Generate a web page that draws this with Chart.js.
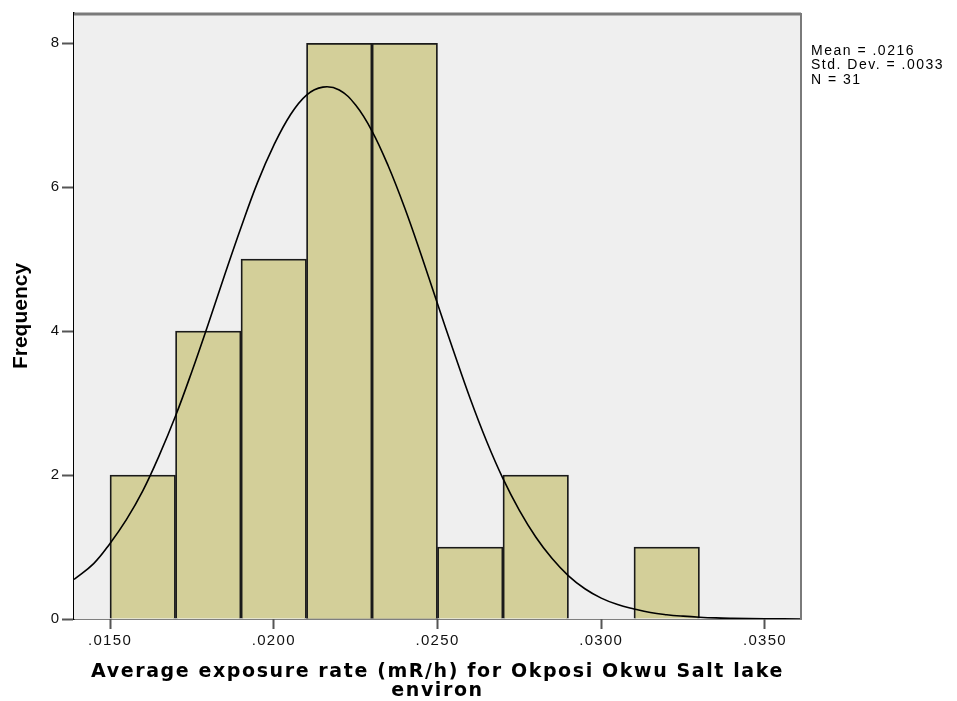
<!DOCTYPE html>
<html lang="en">
<head>
    <meta charset="UTF-8">
    <title>Histogram - Average exposure rate</title>
    <script src="https://cdn.jsdelivr.net/npm/chart.js"></script>
    <style>
        html, body { margin: 0; padding: 0; background: #ffffff; }
        #wrap { width: 957px; height: 701px; position: relative; }
    </style>
</head>
<body>
    <div id="wrap"><canvas id="histChart" width="957" height="701"></canvas></div>

    <script>
        // Histogram bins (centres) and counts
        const binCentres = [0.016, 0.018, 0.020, 0.022, 0.024, 0.026, 0.028, 0.030, 0.032];
        const binCounts = [2, 4, 5, 8, 8, 1, 2, 0, 1];

        // Normal curve
        const curveX = [0.0139, 0.0145, 0.0150, 0.0155, 0.0160, 0.0165, 0.0170, 0.0175, 0.0180, 0.0185,
            0.0190, 0.0195, 0.0200, 0.0205, 0.0210, 0.0215, 0.0220, 0.0225, 0.0230, 0.0235,
            0.0240, 0.0245, 0.0250, 0.0255, 0.0260, 0.0265, 0.0270, 0.0275, 0.0280, 0.0285,
            0.0290, 0.0295, 0.0300, 0.0305, 0.0310, 0.0315, 0.0320, 0.0325, 0.0330, 0.0335,
            0.0340, 0.0350, 0.0361];
        const curveY = [0.55, 0.77, 1.05, 1.38, 1.78, 2.27, 2.82, 3.44, 4.10, 4.78,
            5.44, 6.06, 6.58, 7.00, 7.28, 7.39, 7.35, 7.14, 6.78, 6.29,
            5.71, 5.06, 4.38, 3.71, 3.06, 2.47, 1.95, 1.51, 1.14, 0.84,
            0.60, 0.42, 0.29, 0.20, 0.14, 0.09, 0.06, 0.04, 0.025, 0.015,
            0.01, 0.004, 0.001];

        // Axis ticks
        const xTickValues = [0.015, 0.020, 0.025, 0.030, 0.035];
        const xTickLabels = ['.0150', '.0200', '.0250', '.0300', '.0350'];
        const yTickValues = [0, 2, 4, 6, 8];

        const statsText = ['Mean = .0216', 'Std. Dev. = .0033', 'N = 31'];

        const barData = binCentres.map((x, i) => ({ x: x, y: binCounts[i] }));
        const curveData = curveX.map((x, i) => ({ x: x, y: curveY[i] }));

        // wrap a scale draw method so its text gets wider letter spacing (SPSS look)
        function spaced(scale, name, spacing) {
            const orig = scale[name];
            scale[name] = function () {
                this.ctx.save();
                this.ctx.letterSpacing = spacing;
                orig.apply(this, arguments);
                this.ctx.restore();
            };
        }

        // grey frame on top/right + stats box
        const framePlugin = {
            id: 'frame',
            beforeDraw(chart) {
                const xs = chart.scales.x;
                if (xs && !xs._spaced) {
                    spaced(xs, 'drawTitle', '1.6px');
                    spaced(xs, 'drawLabels', '1.3px');
                    xs._spaced = true;
                }
            },
            beforeDatasetsDraw(chart) {
                const { ctx, chartArea: a } = chart;
                ctx.save();
                ctx.fillStyle = '#efefef';
                ctx.fillRect(a.left, a.top, a.right - a.left, a.bottom - a.top);
                ctx.restore();
            },
            afterDraw(chart) {
                const { ctx, chartArea: a } = chart;
                ctx.save();
                ctx.strokeStyle = '#7a7a7a';
                ctx.lineWidth = 3;
                ctx.beginPath();
                ctx.moveTo(a.left, a.top + 1);
                ctx.lineTo(a.right, a.top + 1);
                ctx.stroke();
                ctx.lineWidth = 2;
                ctx.beginPath();
                ctx.moveTo(a.right, a.top);
                ctx.lineTo(a.right, a.bottom);
                ctx.stroke();

                ctx.fillStyle = '#000';
                ctx.font = '14px "Liberation Sans", Arial, sans-serif';
                ctx.letterSpacing = '1.5px';
                ctx.textBaseline = 'middle';
                statsText.forEach((t, i) => ctx.fillText(t, 811, 51 + i * 14.5));
                ctx.restore();
            }
        };

        new Chart(document.getElementById('histChart'), {
            type: 'bar',
            data: {
                datasets: [
                    {
                        type: 'line',
                        data: curveData,
                        borderColor: '#000',
                        borderWidth: 1.6,
                        pointRadius: 0,
                        tension: 0.4,
                        fill: false,
                        order: 0
                    },
                    {
                        type: 'bar',
                        data: barData,
                        backgroundColor: '#d3cf99',
                        borderColor: '#1a1a1a',
                        borderWidth: 1.8,
                        borderSkipped: 'bottom',
                        barPercentage: 1,
                        categoryPercentage: 1,
                        order: 1
                    }
                ]
            },
            options: {
                responsive: false,
                animation: false,
                layout: { padding: { left: 0, top: 13, right: 156, bottom: 0 } },
                plugins: { legend: { display: false }, tooltip: { enabled: false } },
                scales: {
                    x: {
                        type: 'linear',
                        min: 0.0139,
                        max: 0.0361,
                        offset: false,
                        afterFit(s) { s.height = 82; },
                        afterBuildTicks(s) { s.ticks = xTickValues.map(v => ({ value: v })); },
                        ticks: {
                            autoSkip: false,
                            maxRotation: 0,
                            padding: 3,
                            color: '#111',
                            font: { family: '"Liberation Sans", Arial, sans-serif', size: 15 },
                            callback: (v) => xTickLabels[xTickValues.indexOf(v)]
                        },
                        grid: { drawOnChartArea: false, offset: false, tickLength: 10, color: '#555', tickWidth: 2 },
                        border: { color: '#000', width: 1.5 },
                        title: {
                            display: true,
                            text: ['Average exposure rate (mR/h) for Okposi Okwu Salt lake', 'environ'],
                            color: '#000',
                            font: { family: '"DejaVu Sans", sans-serif', size: 19, weight: 'bold', lineHeight: 1.0 },
                            padding: { top: 0, bottom: 0 }
                        }
                    },
                    y: {
                        min: 0,
                        max: 8.42,
                        afterFit(s) { s.width = 74; },
                        afterBuildTicks(s) { s.ticks = yTickValues.map(v => ({ value: v })); },
                        ticks: {
                            padding: 3,
                            color: '#111',
                            font: { family: '"Liberation Sans", Arial, sans-serif', size: 15 }
                        },
                        grid: { drawOnChartArea: false, tickLength: 12, color: '#555', tickWidth: 2 },
                        border: { color: '#000', width: 1.5 },
                        title: {
                            display: true,
                            text: 'Frequency',
                            color: '#000',
                            font: { family: '"Liberation Sans", Arial, sans-serif', size: 21, weight: 'bold', lineHeight: 1.2 },
                            padding: { top: 9, bottom: 0 }
                        }
                    }
                }
            },
            plugins: [framePlugin]
        });
    </script>
</body>
</html>
